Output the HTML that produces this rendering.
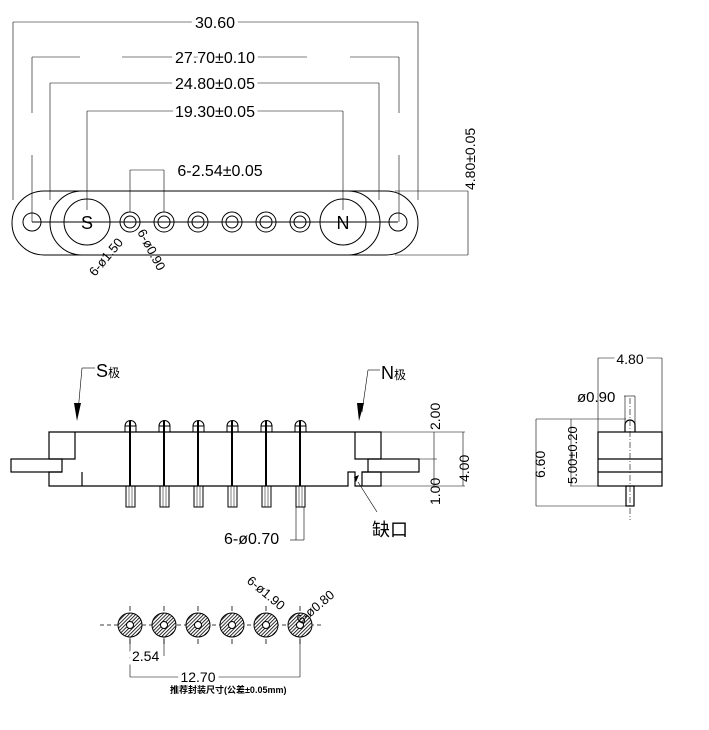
<!DOCTYPE html>
<html><head><meta charset="utf-8"><style>
html,body{margin:0;padding:0;background:#fff;}
svg{display:block;}
text{font-family:"Liberation Sans","Noto Sans CJK SC",sans-serif;fill:#000;}
.d{stroke:#fff;stroke-width:7px;paint-order:stroke;}
</style></head><body>
<svg width="709" height="730" viewBox="0 0 709 730" xmlns="http://www.w3.org/2000/svg">
<g stroke="#000" fill="none" stroke-width="0.6">
<line x1="13" y1="22" x2="418" y2="22"/>
<line x1="13" y1="22" x2="13" y2="200"/>
<line x1="418" y1="22" x2="418" y2="200"/>
<line x1="32" y1="57" x2="80" y2="57"/><line x1="122" y1="57" x2="307" y2="57"/><line x1="350" y1="57" x2="399" y2="57"/>
<line x1="32" y1="57" x2="32" y2="113"/><line x1="32" y1="155" x2="32" y2="222"/>
<line x1="399" y1="57" x2="399" y2="113"/><line x1="399" y1="155" x2="399" y2="222"/>
<line x1="50" y1="83" x2="379" y2="83"/>
<line x1="50" y1="83" x2="50" y2="200"/><line x1="379" y1="83" x2="379" y2="200"/>
<line x1="87" y1="111" x2="343" y2="111"/>
<line x1="87" y1="111" x2="87" y2="210"/><line x1="343" y1="111" x2="343" y2="210"/>
<line x1="130" y1="170" x2="164" y2="170"/>
<line x1="130" y1="170" x2="130" y2="212"/><line x1="164" y1="170" x2="164" y2="212"/>
<line x1="395" y1="191" x2="468" y2="191"/><line x1="395" y1="255" x2="468" y2="255"/>
<line x1="468" y1="191" x2="468" y2="255"/>
</g>
<g font-size="16" text-anchor="middle" class="d">
<text x="215" y="28" class="d">30.60</text>
<text x="215" y="63" class="d">27.70±0.10</text>
<text x="215" y="89" class="d">24.80±0.05</text>
<text x="215" y="117" class="d">19.30±0.05</text>
<text x="220" y="176" class="d">6-2.54±0.05</text>
</g>
<text transform="translate(475,190) rotate(-90)" font-size="14">4.80±0.05</text>
<g stroke="#000" fill="none" stroke-width="1">
<rect x="12" y="191" width="406" height="64" rx="32"/>
<rect x="50" y="191" width="330" height="64" rx="32"/>
<line x1="32" y1="222" x2="398" y2="222"/>
<circle cx="32" cy="222" r="9"/><circle cx="398" cy="222" r="9"/>
<circle cx="87" cy="222" r="23"/><circle cx="343" cy="222" r="23"/>
<circle cx="130" cy="222" r="10"/><circle cx="130" cy="222" r="6"/>
<circle cx="164" cy="222" r="10"/><circle cx="164" cy="222" r="6"/>
<circle cx="198" cy="222" r="10"/><circle cx="198" cy="222" r="6"/>
<circle cx="232" cy="222" r="10"/><circle cx="232" cy="222" r="6"/>
<circle cx="266" cy="222" r="10"/><circle cx="266" cy="222" r="6"/>
<circle cx="300" cy="222" r="10"/><circle cx="300" cy="222" r="6"/>
</g>
<text x="87" y="229" font-size="18" text-anchor="middle">S</text>
<text x="343" y="229" font-size="18" text-anchor="middle">N</text>
<text transform="translate(95,277) rotate(-50)" font-size="13">6-ø1.50</text>
<text transform="translate(137,232) rotate(62)" font-size="13">6-ø0.90</text>
<g stroke="#000" fill="none" stroke-width="1.2">
<path d="M49 459 V432 H381 V459"/>
<path d="M75 432 V459 H49"/>
<rect x="11" y="459" width="51" height="13"/>
<path d="M62 472 H49 V486 H348 V472 H355 V486 H381 V472 H362 V486"/>
<path d="M82 472 V486"/>
<path d="M355 432 V459 H381"/>
<rect x="368" y="459" width="51" height="13"/>
<path d="M362 472 H368"/>
</g>
<g stroke="#000" fill="none" stroke-width="1">
<g id="p">
<path d="M125 432 V426 A5.5 5.5 0 0 1 136 426 V432"/>
<line x1="125" y1="426" x2="136" y2="426"/>
<rect x="126" y="486" width="9" height="21"/>
<line x1="129" y1="486" x2="129" y2="507" stroke-width="0.5"/>
<line x1="132" y1="486" x2="132" y2="507" stroke-width="0.5"/>
</g>
<use href="#p" x="34"/><use href="#p" x="68"/><use href="#p" x="102"/><use href="#p" x="136"/><use href="#p" x="170"/>
</g>
<g stroke="#000" stroke-width="2">
<line x1="130" y1="421" x2="130" y2="486"/><line x1="164" y1="421" x2="164" y2="486"/>
<line x1="198" y1="421" x2="198" y2="486"/><line x1="232" y1="421" x2="232" y2="486"/>
<line x1="266" y1="421" x2="266" y2="486"/><line x1="300" y1="421" x2="300" y2="486"/>
</g>
<g stroke="#000" fill="none" stroke-width="0.6">
<line x1="381" y1="432" x2="465" y2="432"/><line x1="381" y1="486" x2="465" y2="486"/>
<line x1="419" y1="459" x2="437" y2="459"/>
<line x1="434" y1="432" x2="434" y2="486"/>
<line x1="463" y1="432" x2="463" y2="486"/>
<line x1="82" y1="368" x2="95" y2="368"/><line x1="82" y1="368" x2="78" y2="412"/>
<line x1="368" y1="370" x2="380" y2="370"/><line x1="368" y1="370" x2="362" y2="412"/>
<line x1="377" y1="512" x2="358" y2="482"/>
<line x1="290" y1="540" x2="304" y2="540"/><line x1="304" y1="507" x2="304" y2="540"/><line x1="296" y1="507" x2="296" y2="540"/>
</g>
<path d="M74 403 L81 403 L77 421 Z" fill="#000"/>
<path d="M357 403 L364 403 L359 421 Z" fill="#000"/>
<path d="M354 477 L359 475 L356 482 Z" fill="#000"/>
<text x="96" y="377" font-size="18">S<tspan font-size="12">极</tspan></text>
<text x="381" y="379" font-size="18">N<tspan font-size="12">极</tspan></text>
<text x="372" y="536" font-size="18">缺口</text>
<text x="224" y="544" font-size="16">6-ø0.70</text>
<text transform="translate(440,430) rotate(-90)" font-size="14">2.00</text>
<text transform="translate(440,505) rotate(-90)" font-size="14">1.00</text>
<text transform="translate(469,482) rotate(-90)" font-size="14">4.00</text>
<g stroke="#000" fill="none" stroke-width="1.2">
<rect x="598" y="432" width="64" height="54"/>
<line x1="598" y1="459" x2="662" y2="459"/><line x1="598" y1="472" x2="662" y2="472"/>
<path d="M625 432 V425 A5 5 0 0 1 635 425 V432"/>
<rect x="626" y="486" width="8" height="20"/>
</g>
<g stroke="#000" fill="none" stroke-width="0.6">
<line x1="630" y1="398" x2="630" y2="520" stroke-dasharray="6 2 1 2"/>
<line x1="598" y1="358" x2="662" y2="358"/>
<line x1="598" y1="358" x2="598" y2="432"/><line x1="662" y1="358" x2="662" y2="432"/>
<line x1="624" y1="396" x2="635" y2="396"/>
<line x1="625" y1="396" x2="625" y2="425"/><line x1="635" y1="396" x2="635" y2="425"/>
<line x1="536" y1="419" x2="626" y2="419"/><line x1="536" y1="506" x2="626" y2="506"/>
<line x1="536" y1="419" x2="536" y2="506"/>
<line x1="570" y1="486" x2="598" y2="486"/>
<line x1="571" y1="419" x2="571" y2="486"/>
</g>
<text x="630" y="364" font-size="14" text-anchor="middle" class="d">4.80</text>
<text x="577" y="402" font-size="15">ø0.90</text>
<text transform="translate(545,478) rotate(-90)" font-size="14">6.60</text>
<text transform="translate(577,484) rotate(-90)" font-size="13">5.00±0.20</text>
<defs>
<pattern id="h" width="2.5" height="2.5" patternUnits="userSpaceOnUse" patternTransform="rotate(45)">
<rect width="2.5" height="2.5" fill="#fff"/><line x1="0" y1="0" x2="0" y2="2.5" stroke="#000" stroke-width="1.6"/>
</pattern>
</defs>
<line x1="100" y1="625" x2="322" y2="625" stroke="#000" stroke-width="0.8" stroke-dasharray="4 3"/>
<g stroke="#000" stroke-width="1">
<g id="f">
<circle cx="130" cy="625" r="12" fill="url(#h)"/>
<circle cx="130" cy="625" r="3.5" fill="#fff"/>
<line x1="130" y1="606" x2="130" y2="611" stroke-width="0.8"/>
<line x1="130" y1="639" x2="130" y2="644" stroke-width="0.8"/>
</g>
<use href="#f" x="34"/><use href="#f" x="68"/><use href="#f" x="102"/><use href="#f" x="136"/><use href="#f" x="170"/>
</g>
<g stroke="#000" stroke-width="0.6">
<line x1="130" y1="637" x2="130" y2="677"/><line x1="164" y1="637" x2="164" y2="656"/>
<line x1="300" y1="637" x2="300" y2="677"/>
<line x1="130" y1="677" x2="300" y2="677"/>
</g>
<text x="132" y="661" font-size="14" class="d">2.54</text>
<text x="198" y="682" font-size="14" text-anchor="middle" class="d">12.70</text>
<text x="170" y="693" font-size="9" font-weight="bold">推荐封装尺寸(公差±0.05mm)</text>
<text transform="translate(246,582) rotate(40)" font-size="13">6-ø1.90</text>
<text transform="translate(301,625) rotate(-40)" font-size="13">6-ø0.80</text>
</svg>
</body></html>
